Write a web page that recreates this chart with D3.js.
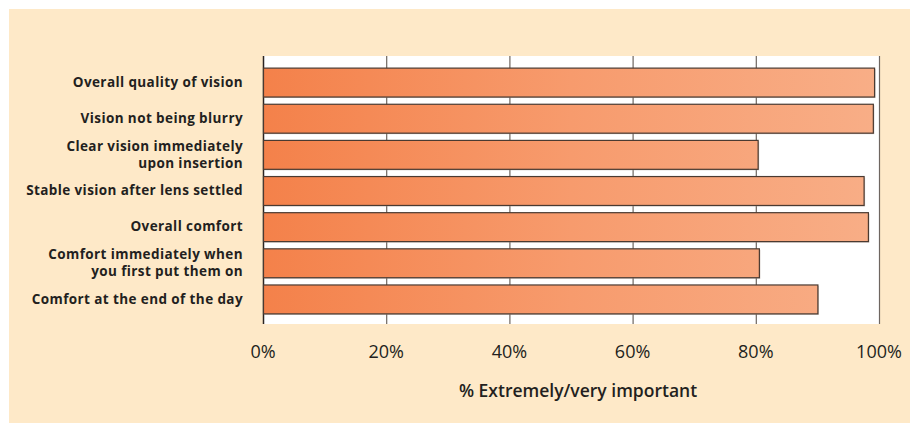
<!DOCTYPE html>
<html>
<head>
<meta charset="utf-8">
<script src="https://cdn.jsdelivr.net/npm/d3@7"></script>
<style>
  html, body { margin: 0; padding: 0; background: #ffffff; }
  svg { display: block; }
</style>
</head>
<body>
<svg id="chart" width="917" height="423"></svg>
<script>
const categories = [
  ["Overall quality of vision"],
  ["Vision not being blurry"],
  ["Clear vision immediately", "upon insertion"],
  ["Stable vision after lens settled"],
  ["Overall comfort"],
  ["Comfort immediately when", "you first put them on"],
  ["Comfort at the end of the day"]
];
const values = [99.2, 99.0, 80.3, 97.5, 98.2, 80.5, 90.0];
const tickValues = [0, 20, 40, 60, 80, 100];
const tickLabels = ["0%", "20%", "40%", "60%", "80%", "100%"];
const axisTitle = "% Extremely/very important";

const svg = d3.select("#chart");
const W = 917, H = 423;
const plot = { left: 263, right: 879, top: 56, bottom: 324 };

// panel background
svg.append("rect").attr("x", 9).attr("y", 9).attr("width", 901).attr("height", H - 9)
  .attr("fill", "#fee9c8");

// white plot area
svg.append("rect").attr("x", plot.left).attr("y", plot.top)
  .attr("width", plot.right - plot.left).attr("height", plot.bottom - plot.top)
  .attr("fill", "#ffffff");

const x = d3.scaleLinear().domain([0, 100]).range([plot.left, plot.right]);
const y = d3.scaleBand().domain(d3.range(categories.length))
  .range([64, 317]).paddingInner(0.2).paddingOuter(0.1);

// gradient
const defs = svg.append("defs");
const grad = defs.append("linearGradient").attr("id", "barGrad")
  .attr("gradientUnits", "userSpaceOnUse")
  .attr("x1", plot.left).attr("x2", plot.right).attr("y1", 0).attr("y2", 0);
grad.append("stop").attr("offset", "0%").attr("stop-color", "#f4814a");
grad.append("stop").attr("offset", "50%").attr("stop-color", "#f79b6d");
grad.append("stop").attr("offset", "100%").attr("stop-color", "#f8ae87");

// gridlines
svg.append("g").selectAll("line").data(tickValues).join("line")
  .attr("x1", d => x(d) + 0.5).attr("x2", d => x(d) + 0.5)
  .attr("y1", plot.top).attr("y2", plot.bottom)
  .attr("stroke", d => d === 0 ? "#2b2422" : "#6e6660")
  .attr("stroke-width", d => d === 0 ? 1.5 : 1.2);

// bar shadows
svg.append("g").selectAll("rect").data(values).join("rect")
  .attr("x", x(0) + 1.5).attr("y", (d, i) => y(i) + 1.5)
  .attr("width", d => x(d) - x(0)).attr("height", y.bandwidth())
  .attr("fill", "#b0a49c").attr("opacity", 0.6);

// bars
svg.append("g").selectAll("rect").data(values).join("rect")
  .attr("x", x(0) + 0.5).attr("y", (d, i) => y(i) + 0.5)
  .attr("width", d => x(d) - x(0)).attr("height", y.bandwidth())
  .attr("fill", "url(#barGrad)")
  .attr("stroke", "#4a3a31").attr("stroke-width", 1.2);

// category labels
const lab = svg.append("g").attr("font-family", "'Open Sans', sans-serif")
  .attr("font-weight", "bold").attr("font-size", 13.5).attr("fill", "#231f20")
  .attr("letter-spacing", 0.4)
  .attr("text-anchor", "end");
categories.forEach((lines, i) => {
  const cy = y(i) + y.bandwidth() / 2;
  const lh = 17;
  const t = lab.append("text").attr("x", 243);
  lines.forEach((ln, j) => {
    t.append("tspan").attr("x", 243)
      .attr("y", cy + (j - (lines.length - 1) / 2) * lh)
      .attr("dy", "0.35em").text(ln);
  });
});

// tick labels
svg.append("g").selectAll("text").data(tickValues).join("text")
  .attr("x", d => x(d)).attr("y", 352).attr("dy", "0.35em")
  .attr("text-anchor", "middle")
  .attr("font-family", "'Open Sans', sans-serif").attr("font-size", 18)
  .attr("fill", "#231f20")
  .text((d, i) => tickLabels[i]);

// axis title
svg.append("text").attr("x", 578).attr("y", 391).attr("dy", "0.35em")
  .attr("text-anchor", "middle")
  .attr("font-family", "'Open Sans', sans-serif").attr("font-weight", 600)
  .attr("font-size", 17.5).attr("fill", "#231f20")
  .text(axisTitle);
</script>
</body>
</html>
